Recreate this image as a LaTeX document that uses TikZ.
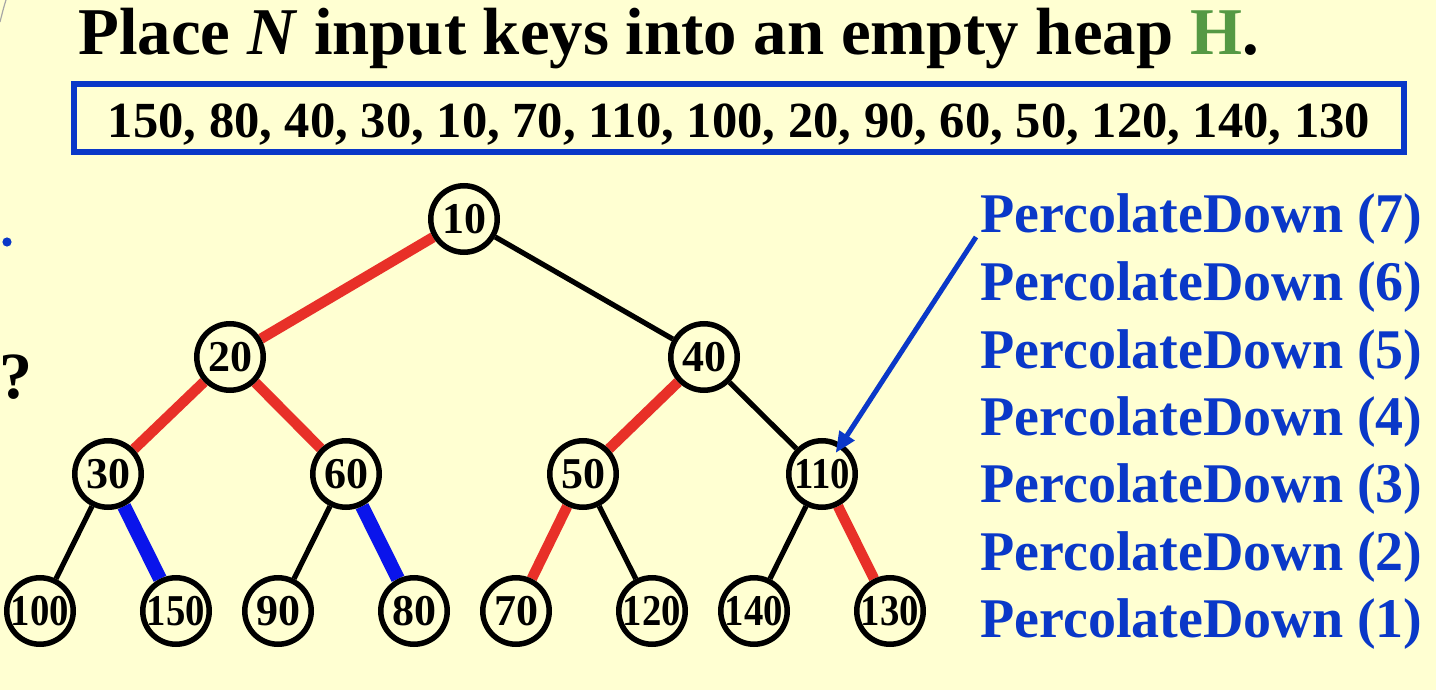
\documentclass[tikz,border=0pt]{standalone}
\usepackage{fontspec}
\usepackage{graphicx}
\setmainfont{Liberation Serif}
\usetikzlibrary{arrows.meta}
\pgfdeclarelayer{bglayer}
\pgfdeclarelayer{edgelayer}
\pgfsetlayers{bglayer,edgelayer,main}
\definecolor{bgyellow}{RGB}{255,255,210}
\definecolor{txtblue}{RGB}{10,56,200}
\definecolor{edgered}{RGB}{232,48,40}
\definecolor{edgeblue}{RGB}{10,20,235}
\definecolor{hgreen}{RGB}{85,153,68}
\newcommand{\tri}[1]{\scalebox{0.88}[1]{#1}}
\begin{document}
\begin{tikzpicture}[x=0.5pt,y=-0.5pt,
  keynode/.style={circle,draw=black,fill=bgyellow,line width=2.75pt,minimum size=33.25pt,inner sep=0pt,font=\fontsize{22}{22}\selectfont\bfseries},
  plainedge/.style={draw=black,line width=2.6pt},
  rededge/.style={draw=edgered,line width=5.25pt},
  blueedge/.style={draw=edgeblue,line width=7pt},
  steplabel/.style={anchor=base west,inner sep=0pt,text=txtblue,font=\fontsize{28}{28}\selectfont\bfseries},
  pointer/.style={draw=txtblue,line width=2.5pt,-{Triangle[length=10.5pt,width=8.5pt]},shorten >=-5.5pt}
]
\begin{pgfonlayer}{bglayer}
\fill[bgyellow] (0,0) rectangle (1436,690);
\end{pgfonlayer}
\useasboundingbox (0,0) rectangle (1436,690);

% left-edge remnants
\draw[gray!70,line width=0.6pt] (0,22) .. controls (2,14) and (4,6) .. (6,0);
\fill[txtblue] (7,242) circle (2.3pt);
\node[anchor=base west,inner sep=0pt,font=\fontsize{33}{33}\selectfont\bfseries] (qmark) at (-1,398) {?};

% title
\node[anchor=base west,inner sep=0pt,font=\fontsize{33.4}{33.4}\selectfont\bfseries] (title) at (78,55)
  {Place \textit{N} input keys into an empty heap \textcolor{hgreen}{H}.};

% input keys box
\node[draw=txtblue,line width=3pt,minimum width=665pt,minimum height=34pt,text height=20pt,text depth=0pt,inner sep=0pt,
  font=\fontsize{25.3}{25.3}\selectfont\bfseries] (keys) at (739,118)
  {150, 80, 40, 30, 10, 70, 110, 100, 20, 90, 60, 50, 120, 140, 130};

% heap nodes
\node[keynode] (n10) at (464,219) {10};
\node[keynode] (n20) at (230,357) {20};
\node[keynode] (n40) at (704,357) {40};
\node[keynode] (n30) at (108,474) {30};
\node[keynode] (n60) at (346,474) {60};
\node[keynode] (n50) at (583,474) {50};
\node[keynode] (n110) at (822,474) {\tri{110}};
\node[keynode] (n100) at (40,611) {\tri{100}};
\node[keynode] (n150) at (176,611) {\tri{150}};
\node[keynode] (n90) at (278,611) {90};
\node[keynode] (n80) at (414,611) {80};
\node[keynode] (n70) at (516,611) {70};
\node[keynode] (n120) at (652,611) {\tri{120}};
\node[keynode] (n140) at (754,611) {\tri{140}};
\node[keynode] (n130) at (890,611) {\tri{130}};

\begin{pgfonlayer}{edgelayer}
\draw[rededge] (n10) -- (n20);
\draw[plainedge] (n10) -- (n40);
\draw[rededge] (n20) -- (n30);
\draw[rededge] (n20) -- (n60);
\draw[rededge] (n40) -- (n50);
\draw[plainedge] (n40) -- (n110);
\draw[plainedge] (n30) -- (n100);
\draw[blueedge] (n30) -- (n150);
\draw[plainedge] (n60) -- (n90);
\draw[blueedge] (n60) -- (n80);
\draw[rededge] (n50) -- (n70);
\draw[plainedge] (n50) -- (n120);
\draw[plainedge] (n110) -- (n140);
\draw[rededge] (n110) -- (n130);
\end{pgfonlayer}

% percolate steps
\node[steplabel] (p7) at (980,233) {PercolateDown (7)};
\node[steplabel] (p6) at (980,300) {PercolateDown (6)};
\node[steplabel] (p5) at (980,368) {PercolateDown (5)};
\node[steplabel] (p4) at (980,435) {PercolateDown (4)};
\node[steplabel] (p3) at (980,502) {PercolateDown (3)};
\node[steplabel] (p2) at (980,570) {PercolateDown (2)};
\node[steplabel] (p1) at (980,637) {PercolateDown (1)};

\coordinate (pstart) at (976,237);
\draw[pointer] (pstart) -- (n110);
\end{tikzpicture}
\end{document}
